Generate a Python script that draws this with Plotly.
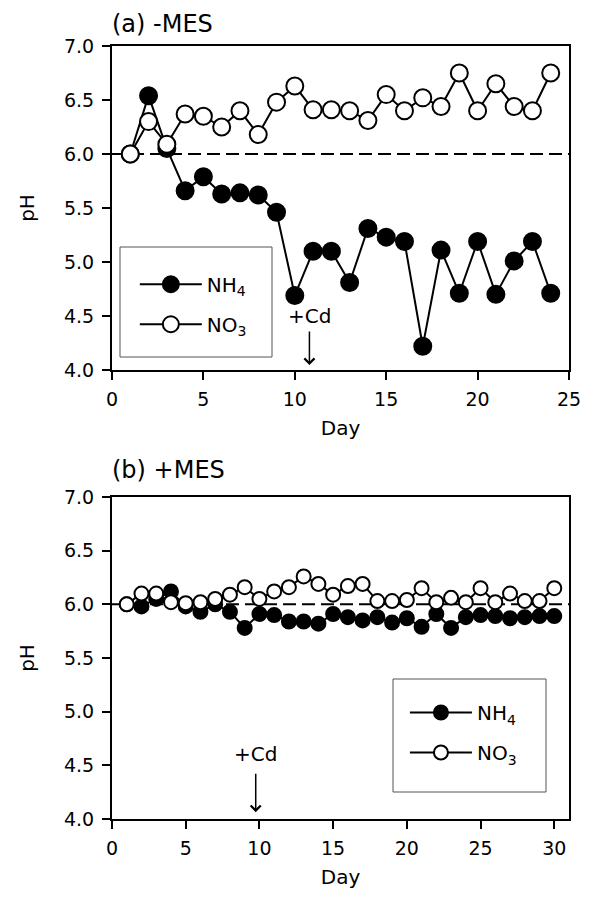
import plotly.graph_objects as go

# ---------------- data ----------------
days_a = list(range(1, 25))
nh4_a = [6.00, 6.54, 6.05, 5.66, 5.79, 5.63, 5.64, 5.62, 5.46, 4.69, 5.10, 5.10,
         4.81, 5.31, 5.23, 5.19, 4.22, 5.11, 4.71, 5.19, 4.70, 5.01, 5.19, 4.71]
no3_a = [6.00, 6.30, 6.09, 6.37, 6.35, 6.25, 6.40, 6.18, 6.48, 6.63, 6.41, 6.41,
         6.40, 6.31, 6.55, 6.40, 6.52, 6.44, 6.75, 6.40, 6.65, 6.44, 6.40, 6.75]

days_b = list(range(1, 31))
nh4_b = [6.00, 5.98, 6.05, 6.12, 5.98, 5.93, 6.00, 5.93, 5.78, 5.91, 5.90, 5.84,
         5.84, 5.82, 5.91, 5.88, 5.85, 5.88, 5.83, 5.87, 5.79, 5.91, 5.78, 5.88,
         5.90, 5.89, 5.87, 5.88, 5.89, 5.89]
no3_b = [6.00, 6.10, 6.10, 6.02, 6.01, 6.02, 6.05, 6.09, 6.16, 6.05, 6.12, 6.16,
         6.26, 6.19, 6.09, 6.17, 6.19, 6.03, 6.03, 6.04, 6.15, 6.02, 6.06, 6.02,
         6.15, 6.02, 6.10, 6.03, 6.03, 6.15]

y_ticks = [4.0, 4.5, 5.0, 5.5, 6.0, 6.5, 7.0]
x_ticks_a = [0, 5, 10, 15, 20, 25]
x_ticks_b = [0, 5, 10, 15, 20, 25, 30]
reference_ph = 6.0
cd_day_a = 10.8
cd_day_b = 9.75

FONT = "DejaVu Sans, Liberation Sans, Arial, sans-serif"
FS = 19

fig = go.Figure()

def add_series(x, y, name, filled, xa, ya, legend, size, group):
    fig.add_trace(go.Scatter(
        x=x, y=y, name=name, mode="lines+markers",
        xaxis=xa, yaxis=ya, legend=legend, legendgroup=group,
        line=dict(color="black", width=2),
        marker=dict(size=size, symbol="circle",
                    color="black" if filled else "white",
                    line=dict(color="black", width=2)),
    ))

add_series(days_a, nh4_a, "NH<sub>4</sub>", True, "x", "y", "legend", 17, "a1")
add_series(days_a, no3_a, "NO<sub>3</sub>", False, "x", "y", "legend", 17, "a2")
add_series(days_b, nh4_b, "NH<sub>4</sub>", True, "x2", "y2", "legend2", 14, "b1")
add_series(days_b, no3_b, "NO<sub>3</sub>", False, "x2", "y2", "legend2", 14, "b2")

axis_common = dict(
    showline=True, linecolor="black", linewidth=2, mirror=True,
    ticks="outside", ticklen=8, tickwidth=2, tickcolor="black",
    showgrid=False, zeroline=False,
    tickfont=dict(family=FONT, size=FS, color="black"),
)
xtitle = dict(text="Day", font=dict(family=FONT, size=20), standoff=12)
ytitle = dict(text="pH", font=dict(family=FONT, size=20), standoff=24)

top_dom = [0.5809, 1.0]
bot_dom = [0.0, 0.4166]

legend_font = dict(family=FONT, size=20, color="black")

# page body has an 8px margin: figure is 588x893 placed at (8, 8)
fig.update_layout(
    width=588, height=893,
    margin=dict(l=104, r=27, t=38, b=82),
    plot_bgcolor="white", paper_bgcolor="white",
    font=dict(family=FONT, size=FS, color="black"),
    showlegend=True,
    xaxis=dict(axis_common, domain=[0, 1], range=[0, 25], tickvals=x_ticks_a,
               anchor="y", title=xtitle, ticklabelstandoff=3),
    yaxis=dict(axis_common, domain=top_dom, range=[4, 7], tickvals=y_ticks, tickformat=".1f",
               anchor="x", title=ytitle, ticklabelstandoff=4),
    xaxis2=dict(axis_common, domain=[0, 1], range=[0, 31], tickvals=x_ticks_b,
                anchor="y2", title=xtitle, ticklabelstandoff=3),
    yaxis2=dict(axis_common, domain=bot_dom, range=[4, 7], tickvals=y_ticks, tickformat=".1f",
                anchor="x2", title=ytitle, ticklabelstandoff=4),
    legend=dict(x=0.05, y=0.717, xanchor="left", yanchor="top",
                bgcolor="rgba(0,0,0,0)", borderwidth=0, itemwidth=62,
                tracegroupgap=11, font=legend_font),
    legend2=dict(x=0.641, y=0.163, xanchor="left", yanchor="top",
                 bgcolor="rgba(0,0,0,0)", borderwidth=0, itemwidth=62,
                 tracegroupgap=11, font=legend_font),
)

# legend frames (page px -> paper fraction)
def px_x(p):
    return (p - 112) / 457

def px_y(p):
    return (819 - p) / 773

fig.add_shape(type="rect", xref="paper", yref="paper",
              x0=px_x(120), x1=px_x(272), y0=px_y(357), y1=px_y(247),
              line=dict(color="#555555", width=1))
fig.add_shape(type="rect", xref="paper", yref="paper",
              x0=px_x(393), x1=px_x(546), y0=px_y(792), y1=px_y(679),
              line=dict(color="#555555", width=1))

# dashed reference lines
for xr, yr in (("x domain", "y"), ("x2 domain", "y2")):
    fig.add_shape(type="line", xref=xr, yref=yr, x0=0, x1=1, y0=reference_ph, y1=reference_ph,
                  line=dict(color="black", width=2, dash="13px,6px"), layer="below")

# panel labels
fig.add_annotation(text="(a) -MES", xref="paper", yref="paper", x=-0.005, y=1.0,
                   xanchor="left", yanchor="bottom", yshift=6, showarrow=False,
                   font=dict(family=FONT, size=24))
fig.add_annotation(text="(b) +MES", xref="paper", yref="paper", x=-0.005, y=bot_dom[1],
                   xanchor="left", yanchor="bottom", yshift=11, showarrow=False,
                   font=dict(family=FONT, size=24))

# +Cd markers
fig.add_annotation(text="+Cd", x=cd_day_a, y=4.046, xref="x", yref="y",
                   showarrow=True, ax=0, ay=-49, arrowhead=4, arrowsize=1.3,
                   arrowwidth=1.5, arrowcolor="black", startstandoff=2,
                   font=dict(family=FONT, size=20))
fig.add_annotation(text="+Cd", x=cd_day_b, y=4.064, xref="x2", yref="y2",
                   showarrow=True, ax=0, ay=-58, arrowhead=4, arrowsize=1.3,
                   arrowwidth=1.5, arrowcolor="black", startstandoff=6,
                   font=dict(family=FONT, size=20))

fig.write_html("out.html")
